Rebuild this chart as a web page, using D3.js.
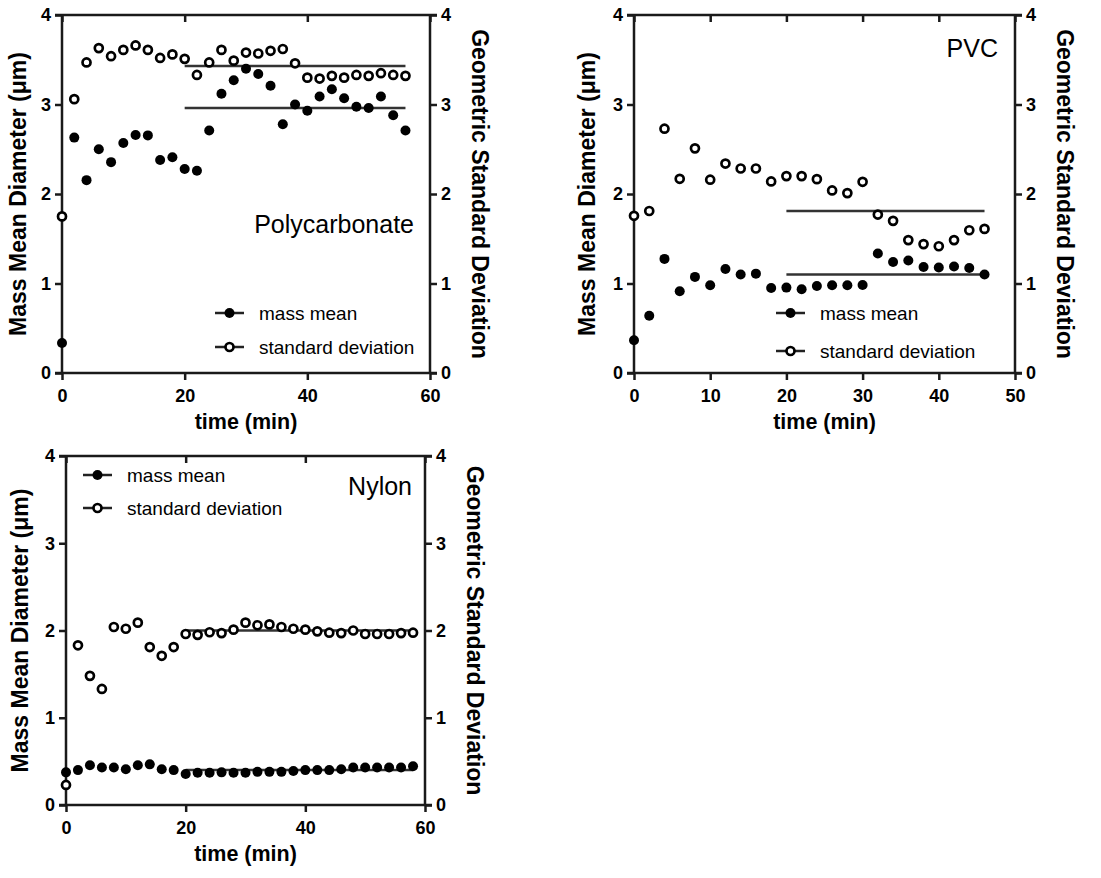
<!DOCTYPE html>
<html><head><meta charset="utf-8">
<script src="https://cdn.jsdelivr.net/npm/d3@7"></script>
<style>body{margin:0;background:#fff}svg{display:block}text{font-family:"Liberation Sans",Arial,sans-serif}</style>
</head><body><svg id="c" width="1101" height="878"></svg>
<script>
// ---- Polycarbonate ----
const timePC = [0,2,4,6,8,10,12,14,16,18,20,22,24,26,28,30,32,34,36,38,40,42,44,46,48,50,52,54,56];
const massPC = [0.335,2.63,2.155,2.50,2.356,2.57,2.66,2.655,2.38,2.41,2.28,2.26,2.71,3.12,3.27,3.40,3.34,3.21,2.78,3.00,2.93,3.09,3.17,3.07,2.975,2.96,3.09,2.88,2.71];
const gsdPC  = [1.75,3.06,3.47,3.63,3.54,3.61,3.66,3.61,3.52,3.56,3.51,3.33,3.47,3.61,3.49,3.58,3.57,3.60,3.62,3.46,3.30,3.29,3.32,3.30,3.33,3.32,3.35,3.33,3.32];
const avgPC = {mass:2.96, gsd:3.43, from:20, to:56};
// ---- PVC ----
const timePVC = [0,2,4,6,8,10,12,14,16,18,20,22,24,26,28,30,32,34,36,38,40,42,44,46];
const massPVC = [0.365,0.64,1.275,0.913,1.074,0.98,1.163,1.10,1.11,0.95,0.954,0.936,0.973,0.98,0.98,0.984,1.335,1.24,1.256,1.185,1.178,1.19,1.174,1.10];
const gsdPVC  = [1.756,1.81,2.73,2.17,2.51,2.16,2.34,2.285,2.285,2.14,2.20,2.20,2.166,2.04,2.01,2.136,1.77,1.70,1.485,1.44,1.416,1.485,1.595,1.61];
const avgPVC = {mass:1.10, gsd:1.81, from:20, to:46};
// ---- Nylon ----
const timeNY = [0,2,4,6,8,10,12,14,16,18,20,22,24,26,28,30,32,34,36,38,40,42,44,46,48,50,52,54,56,58];
const massNY = [0.374,0.40,0.455,0.43,0.43,0.41,0.455,0.466,0.41,0.40,0.355,0.37,0.37,0.374,0.37,0.37,0.38,0.38,0.38,0.39,0.40,0.40,0.40,0.41,0.43,0.43,0.43,0.43,0.43,0.445];
const gsdNY  = [0.23,1.83,1.48,1.33,2.04,2.02,2.09,1.81,1.71,1.81,1.96,1.95,1.98,1.97,2.01,2.09,2.06,2.07,2.04,2.02,2.01,1.99,1.975,1.97,2.00,1.96,1.96,1.96,1.97,1.975];
const avgNY = {mass:0.40, gsd:2.00, from:20, to:58};

const yTicks = [0,1,2,3,4];
const xTicksPC = [0,20,40,60], xTicksPVC = [0,10,20,30,40,50], xTicksNY = [0,20,40,60];
const legendLabels = ["mass mean","standard deviation"];
const yTitle = "Mass Mean Diameter (μm)", y2Title = "Geometric Standard Deviation", xTitle = "time (min)";

const svg = d3.select("#c");
const INK = "#1a1a1a";

function panel(o){
  const g = svg.append("g");
  const x = d3.scaleLinear().domain(o.xDomain).range([o.L, o.R]);
  const y = d3.scaleLinear().domain([0,4]).range([o.B, o.T]);
  const tl = 7;
  const left = g.append("g").attr("transform",`translate(${o.L},0)`)
    .call(d3.axisLeft(y).tickValues(yTicks).tickSize(tl).tickPadding(4).tickFormat(d3.format("d")));
  const right = g.append("g").attr("transform",`translate(${o.R},0)`)
    .call(d3.axisRight(y).tickValues(yTicks).tickSize(tl).tickPadding(4).tickFormat(d3.format("d")));
  const bottom = g.append("g").attr("transform",`translate(0,${o.B})`)
    .call(d3.axisBottom(x).tickValues(o.xTicks).tickSize(tl).tickPadding(9).tickFormat(d3.format("d")));
  const top = g.append("g").attr("transform",`translate(0,${o.T})`)
    .call(d3.axisBottom(x).tickValues(o.xTicks).tickSize(tl).tickFormat(""));
  [left,right,bottom,top].forEach(a=>{
    a.select(".domain").remove();
    a.selectAll("line").attr("stroke",INK).attr("stroke-width",2.5);
    a.selectAll("text").attr("font-size",18).attr("font-weight","bold").attr("fill","#000");
  });
  g.append("line").attr("x1",o.L-tl).attr("x2",o.R+tl).attr("y1",o.B).attr("y2",o.B).attr("stroke",INK).attr("stroke-width",2.5);
  g.append("line").attr("x1",o.L-tl).attr("x2",o.R+tl).attr("y1",o.T).attr("y2",o.T).attr("stroke",INK).attr("stroke-width",2.5);
  g.append("line").attr("x1",o.L).attr("x2",o.L).attr("y1",o.T).attr("y2",o.B).attr("stroke",INK).attr("stroke-width",2.5);
  g.append("line").attr("x1",o.R).attr("x2",o.R).attr("y1",o.T).attr("y2",o.B).attr("stroke",INK).attr("stroke-width",2.5);
  const cy = (o.T+o.B)/2;
  g.append("text").attr("transform",`translate(${o.L-o.yt},${cy}) rotate(-90)`).attr("text-anchor","middle")
    .attr("font-size",23).attr("font-weight","bold").text(yTitle);
  g.append("text").attr("transform",`translate(${o.R+42},${cy}) rotate(90)`).attr("text-anchor","middle")
    .attr("font-size",23).attr("font-weight","bold").text(y2Title);
  g.append("text").attr("x",(o.L+o.R)/2).attr("y",o.B+56).attr("text-anchor","middle")
    .attr("font-size",21.5).attr("font-weight","bold").text(xTitle);
  [o.avg.mass,o.avg.gsd].forEach(v=>{
    g.append("line").attr("x1",x(o.avg.from)).attr("x2",x(o.avg.to)).attr("y1",y(v)).attr("y2",y(v))
      .attr("stroke","#333").attr("stroke-width",2.5);
  });
  g.selectAll(".m").data(o.time.map((t,i)=>[t,o.mass[i]])).join("circle")
    .attr("cx",d=>x(d[0])).attr("cy",d=>y(d[1])).attr("r",5).attr("fill","#000");
  g.selectAll(".s").data(o.time.map((t,i)=>[t,o.gsd[i]])).join("circle")
    .attr("cx",d=>x(d[0])).attr("cy",d=>y(d[1])).attr("r",4).attr("fill","#fff").attr("stroke","#000").attr("stroke-width",2.7);
  g.append("text").attr("x",o.lab[0]).attr("y",o.lab[1]).attr("text-anchor","end").attr("font-size",25).text(o.name);
  legendLabels.forEach((lbl,i)=>{
    const ly = o.leg[1] + i*o.leg[2];
    const lx = o.leg[0];
    g.append("line").attr("x1",lx).attr("x2",lx+29).attr("y1",ly).attr("y2",ly).attr("stroke","#222").attr("stroke-width",2.5);
    if(i===0) g.append("circle").attr("cx",lx+14.5).attr("cy",ly).attr("r",5).attr("fill","#000");
    else g.append("circle").attr("cx",lx+14.5).attr("cy",ly).attr("r",4).attr("fill","#fff").attr("stroke","#000").attr("stroke-width",2.7);
    g.append("text").attr("x",lx+44).attr("y",ly+7).attr("font-size",19).text(lbl);
  });
}

panel({L:62,R:430,T:15,B:373,xDomain:[0,60],xTicks:xTicksPC,time:timePC,mass:massPC,gsd:gsdPC,avg:avgPC,
  name:"Polycarbonate",lab:[414,233],leg:[215,313,34],yt:36});
panel({L:634,R:1015,T:15,B:373,xDomain:[0,50],xTicks:xTicksPVC,time:timePVC,mass:massPVC,gsd:gsdPVC,avg:avgPVC,
  name:"PVC",lab:[998,57],leg:[776,313,38],yt:39});
panel({L:66,R:425,T:456,B:805,xDomain:[0,60],xTicks:xTicksNY,time:timeNY,mass:massNY,gsd:gsdNY,avg:avgNY,
  name:"Nylon",lab:[412,495],leg:[83,475,33],yt:38});
</script></body></html>
